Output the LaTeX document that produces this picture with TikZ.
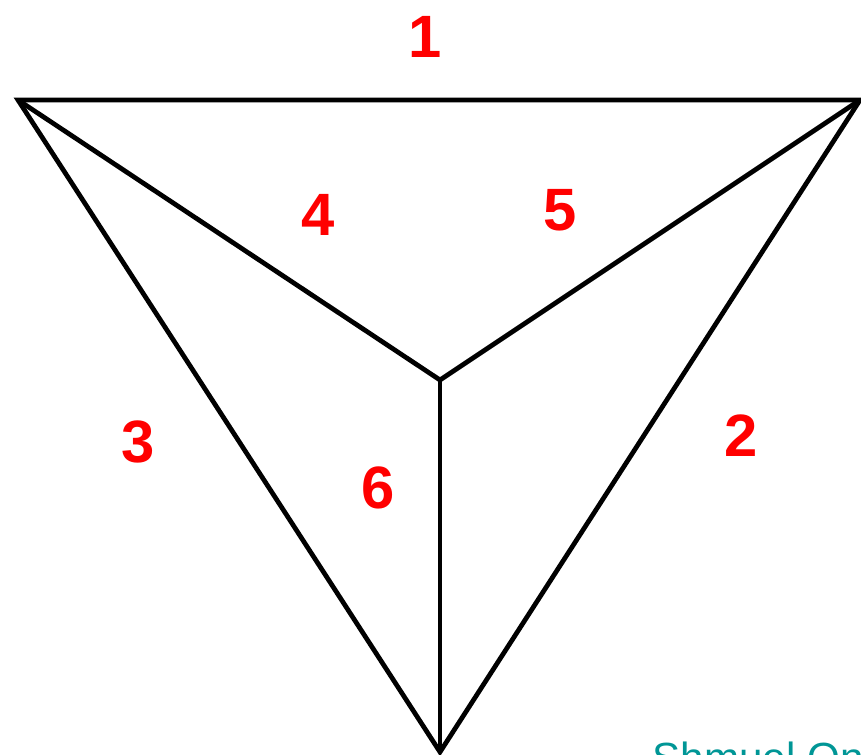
\documentclass[tikz,border=0pt]{standalone}
\usepackage{fontspec}
\setmainfont{Liberation Sans}
\usepackage{xcolor}
\definecolor{facered}{RGB}{255,0,0}
\definecolor{signteal}{RGB}{0,150,150}

\begin{document}
\begin{tikzpicture}[
    x=1cm, y=1cm,
    edge/.style={
        draw=black,
        line width=1.35pt,
        line join=miter
    },
    num/.style={
        font=\fontsize{17}{20}\selectfont\bfseries,
        text=facered,
        inner sep=0pt
    },
    sign/.style={
        font=\fontsize{12}{14}\selectfont,
        text=signteal,
        inner sep=0pt,
        anchor=base west
    }
]

% =========================================================
% Frame
% =========================================================
\clip (0,0) rectangle (8.61,-7.54);
\fill[white] (0,0) rectangle (8.61,-7.54);

% =========================================================
% Vertices
% =========================================================
\coordinate (topleft) at (0.18,-1.00);
\coordinate (topright) at (8.60,-1.00);
\coordinate (bottom) at (4.40,-7.52);
\coordinate (center) at (4.40,-3.80);

% =========================================================
% Outer triangle and inner spokes
% =========================================================
\draw[edge] (topleft) -- (topright) -- (bottom) -- cycle;
\draw[edge] (topleft) -- (center);
\draw[edge] (topright) -- (center);
\draw[edge] (bottom) -- (center);

% =========================================================
% Face numbers
% =========================================================
\node[num] (one) at (4.25,-0.37) {1};
\node[num] (two) at (7.41,-4.36) {2};
\node[num] (three) at (1.38,-4.42) {3};
\node[num] (four) at (3.18,-2.15) {4};
\node[num] (five) at (5.60,-2.10) {5};
\node[num] (six) at (3.78,-4.88) {6};

% =========================================================
% Signature
% =========================================================
\node[sign] (author) at (6.52,-7.72) {Shmuel Onn};

\end{tikzpicture}
\end{document}
